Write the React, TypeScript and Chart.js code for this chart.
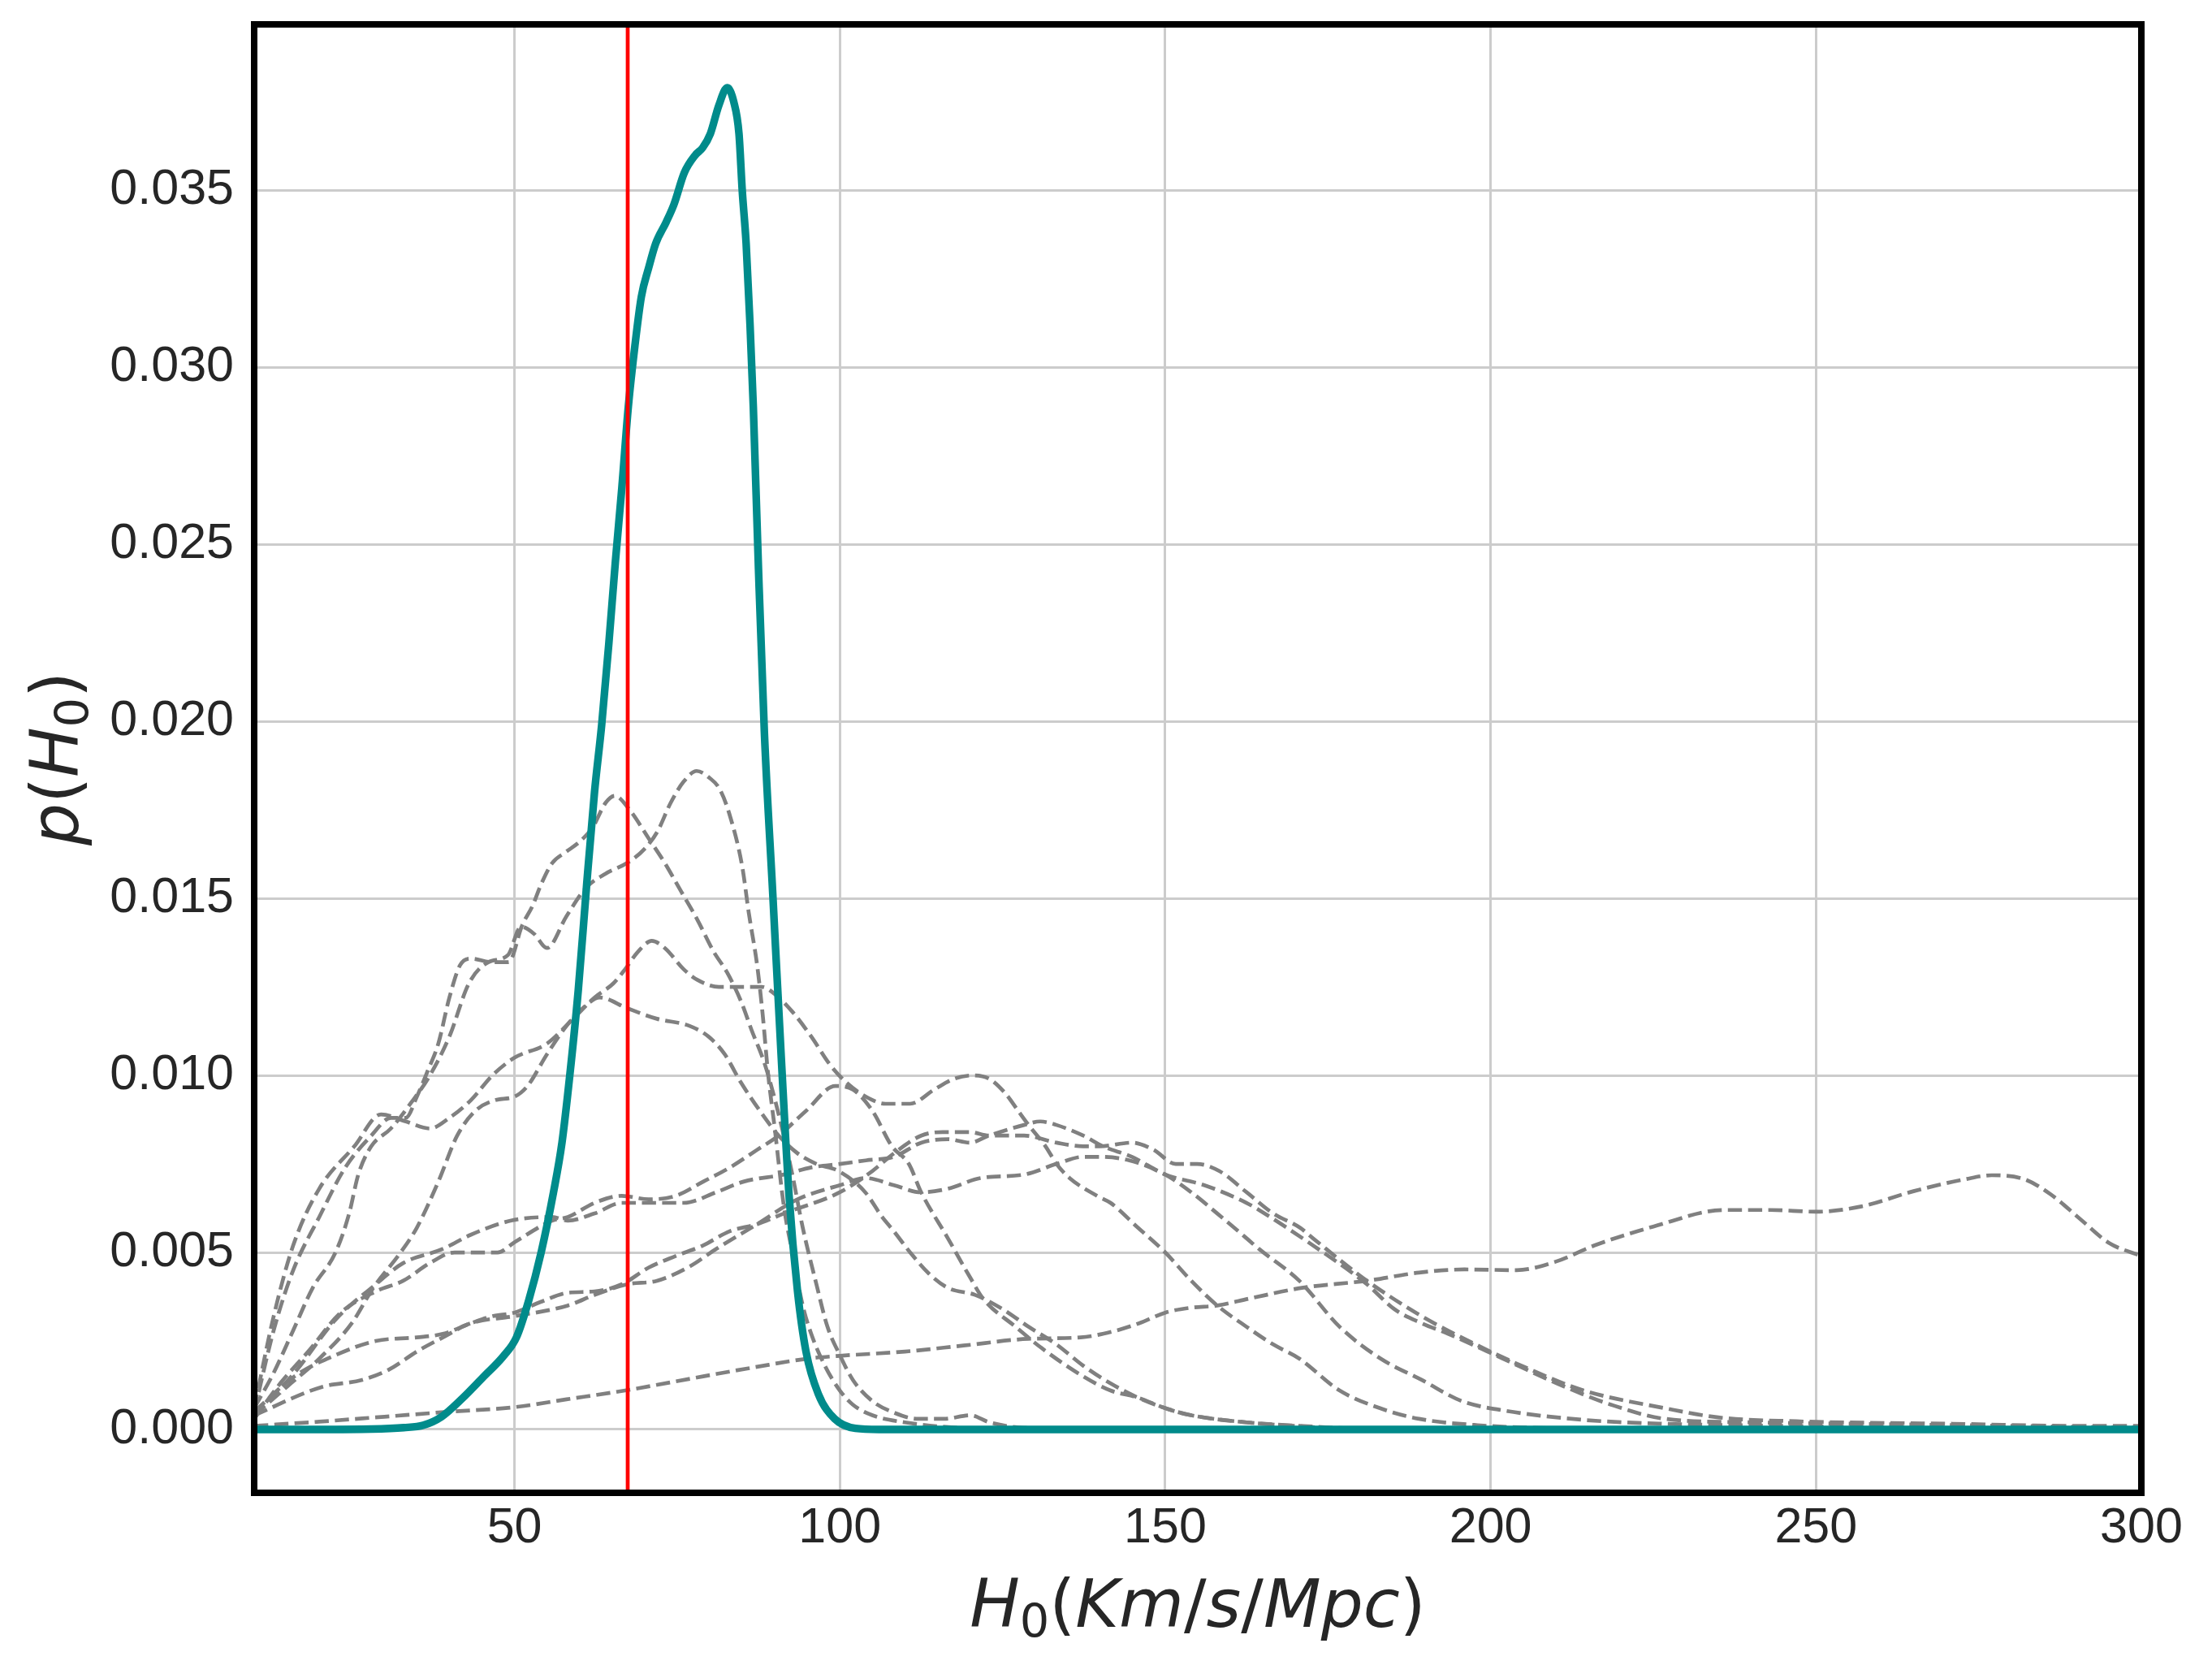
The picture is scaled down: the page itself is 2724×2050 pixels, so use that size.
import React, { useEffect, useRef } from 'react';
import { Chart, registerables } from 'chart.js';

Chart.register(...registerables);

const CANVAS_W = 2724;
const CANVAS_H = 2050;

const X_MIN = 10;
const X_MAX = 300;
const Y_MIN = -0.00179;
const Y_MAX = 0.03969;

const X_TICKS = [50, 100, 150, 200, 250, 300];
const Y_TICKS = [0, 0.005, 0.01, 0.015, 0.02, 0.025, 0.03, 0.035];

const H0_REFERENCE = 67.4;

// combined posterior
const TEAL: [number, number][] = [
  [10, 0], [20, 0], [28, 0.00001], [33, 0.00005], [36, 0.00012], [38.8, 0.00036], [42, 0.00088],
  [45.2, 0.00148], [48.3, 0.00207], [50.3, 0.0026], [52.2, 0.00365], [54.1, 0.005], [56, 0.0067],
  [57.3, 0.0081], [58.5, 0.01], [59.8, 0.0124], [61.1, 0.0154], [62.3, 0.018], [63.4, 0.0199],
  [64.5, 0.0222], [65.5, 0.0245], [66.5, 0.0266], [67.5, 0.0289], [68.5, 0.0306], [69.5, 0.032],
  [70.6, 0.0328], [71.7, 0.0335], [73.3, 0.0341], [74.5, 0.0346], [76.1, 0.0355], [77.8, 0.036],
  [78.9, 0.0362], [80.1, 0.0366], [81.4, 0.0374], [82.7, 0.0379], [83.7, 0.0375], [84.5, 0.0366],
  [85, 0.035], [85.6, 0.0335], [86.2, 0.0312], [86.7, 0.0289], [87.5, 0.0243], [88.4, 0.0197],
  [89.7, 0.0151], [91, 0.0105], [92.2, 0.0066], [93.5, 0.0039], [94.8, 0.0022], [96.7, 0.001],
  [99.2, 0.0003], [102.4, 0.00003], [106, 0], [150, 0], [300, 0],
];

// individual event posteriors (dashed)
const EV_G1: [number, number][] = [
  [10, 0.0001], [20, 0.00022], [30, 0.00036], [40, 0.0005], [50, 0.00063], [58, 0.00085], [67, 0.0011],
  [79, 0.0015], [87, 0.00176], [95, 0.002], [100, 0.00208], [110, 0.0022], [119, 0.00237], [129, 0.00256],
  [137, 0.0026], [142, 0.00277], [146, 0.003], [150, 0.0033], [154, 0.00344], [158, 0.0035], [163, 0.0037],
  [171, 0.004], [181, 0.0042], [189, 0.00443], [196, 0.00452], [204, 0.0045], [210, 0.00474], [216, 0.0052],
  [225, 0.00573], [236, 0.0062], [243, 0.0062], [250, 0.00615], [257, 0.0063], [265, 0.00673], [273, 0.00707],
  [277, 0.00718], [282, 0.00707], [286, 0.00665], [290.5, 0.00596], [295, 0.00527], [300, 0.0049],
];

const EV_P: [number, number][] = [
  [10, 0.0006], [13, 0.0016], [16, 0.0028], [19, 0.004], [22.5, 0.005], [24.6, 0.0061], [26, 0.0072],
  [28, 0.008], [31, 0.0085], [34, 0.0092], [37, 0.01], [40, 0.0111], [43, 0.0126], [46, 0.0132],
  [49, 0.0134], [51, 0.0142], [53, 0.014], [55, 0.0136], [58, 0.0145], [61, 0.0153], [64, 0.0157],
  [67.3, 0.016], [70, 0.0164], [72, 0.0169], [74, 0.0177], [76, 0.0183], [78, 0.0186], [80, 0.0184],
  [81.5, 0.0181], [83, 0.0174], [85, 0.0159], [86, 0.0146], [87.3, 0.0131], [88.1, 0.0118], [89, 0.01],
  [90, 0.0085], [91.4, 0.0063], [92.7, 0.005], [94.3, 0.0035], [95.6, 0.0027], [97.7, 0.0018],
  [100, 0.0011], [102, 0.0007], [105, 0.0004], [110, 0.0002], [118, 0.00005], [130, 0], [300, 0],
];

const EV_Q: [number, number][] = [
  [10, 0.0005], [13, 0.0028], [16, 0.0045], [20, 0.006], [24, 0.0074], [28, 0.0083], [31, 0.0088],
  [33.3, 0.0088], [35, 0.0094], [36.6, 0.0101], [38.3, 0.0109], [40, 0.0122], [41.6, 0.0131],
  [43.3, 0.0133], [46.6, 0.0132], [49.1, 0.0132], [51.2, 0.01425], [52.8, 0.0148], [54.1, 0.0154],
  [55.8, 0.016], [57.8, 0.0163], [60, 0.0166], [62, 0.017], [64, 0.0177], [65.4, 0.0179], [67.7, 0.0175],
  [70.6, 0.0167], [73.1, 0.016], [75.6, 0.0152], [78.1, 0.0144], [80.6, 0.0135], [82.7, 0.0129],
  [84.8, 0.0121], [86.4, 0.0113], [88.5, 0.0103], [90.6, 0.0089], [92.7, 0.0072], [94.3, 0.0057],
  [96.4, 0.0041], [98.1, 0.0029], [100, 0.0021], [102, 0.0014], [105, 0.0008], [108, 0.0005],
  [112, 0.0003], [116, 0.0003], [120, 0.0004], [123, 0.0002], [128, 0.00005], [140, 0], [300, 0],
];

const EV_R: [number, number][] = [
  [10, 0.0006], [13, 0.0032], [16, 0.0052], [20, 0.0068], [25.4, 0.008], [29.5, 0.0089], [33.3, 0.0087],
  [37, 0.0085], [40, 0.0088], [43.3, 0.0093], [46.6, 0.01], [50, 0.0105], [55, 0.0109], [59, 0.0116],
  [62.3, 0.0122], [65.2, 0.0126], [67, 0.013], [69, 0.0135], [71.1, 0.0138], [73.1, 0.0136], [76, 0.013],
  [78.1, 0.0127], [81.4, 0.0125], [85.2, 0.0125], [88, 0.0125], [90, 0.0123], [92.7, 0.0118],
  [95.6, 0.0111], [98.5, 0.0103], [101, 0.0098], [104, 0.0094], [107, 0.0092], [110.8, 0.0092],
  [114.5, 0.0096], [117.5, 0.0099], [120.4, 0.01], [123, 0.0099], [125.4, 0.0095], [127.4, 0.009],
  [129, 0.0086], [131.6, 0.008], [133.3, 0.0075], [135.3, 0.0071], [139.5, 0.0066], [141.6, 0.0064],
  [145.8, 0.0057], [150, 0.005], [154, 0.0042], [158, 0.0035], [162.5, 0.0029], [166.6, 0.0024],
  [170.6, 0.002], [176.8, 0.0011], [183, 0.0006], [189, 0.0003], [198, 0.00012], [210, 0.00003],
  [225, 0], [300, 0],
];

const EV_X: [number, number][] = [
  [10, 0.0004], [15, 0.0012], [20, 0.002], [25, 0.003], [28.3, 0.004], [32.5, 0.005], [35, 0.0057],
  [38.3, 0.007], [41.2, 0.0083], [44, 0.009], [47, 0.0093], [50, 0.0094], [52, 0.0097], [55, 0.0106],
  [58, 0.0114], [60.5, 0.0119], [63.1, 0.0122], [67.3, 0.0119], [71.9, 0.0116], [76.9, 0.0114],
  [79.8, 0.0111], [82.3, 0.0106], [84.8, 0.0098], [88.1, 0.0089], [90.6, 0.0083], [93.5, 0.0078],
  [96.4, 0.0075], [99.8, 0.0073], [103.9, 0.0067], [106.5, 0.006], [108.3, 0.0056], [110.8, 0.005],
  [113.7, 0.0044], [116.6, 0.004], [120.8, 0.0038], [125, 0.0034], [129, 0.0029], [133.3, 0.0024],
  [137.4, 0.0018], [141.6, 0.0013], [145.8, 0.0009], [150, 0.0006], [154, 0.0004], [162.5, 0.0002],
  [170, 0.0001], [180, 0], [300, 0],
];

const EV_Y: [number, number][] = [
  [10, 0.0003], [14, 0.0013], [18.3, 0.0022], [23.3, 0.0033], [28.7, 0.0039], [32.9, 0.0042],
  [37, 0.0047], [40.8, 0.005], [45.4, 0.005], [47.4, 0.005], [50.1, 0.0053], [55.8, 0.0059],
  [58.2, 0.006], [62.3, 0.0064], [66.5, 0.0066], [70.6, 0.0065], [74.8, 0.0066], [79, 0.007],
  [83.1, 0.0074], [87.3, 0.0079], [90.6, 0.0083], [94.8, 0.009], [99.3, 0.0097], [102, 0.0096],
  [105, 0.009], [108, 0.008], [110.6, 0.0075], [112.5, 0.0067], [116.6, 0.0054], [120, 0.0043],
  [122, 0.0037], [127, 0.0029], [131, 0.0023], [137.4, 0.0015], [141.6, 0.0011], [145.8, 0.0009],
  [150, 0.0006], [154, 0.0004], [162.5, 0.0002], [170.7, 0.0001], [185, 0], [300, 0],
];

const EV_U: [number, number][] = [
  [10, 0.0004], [16.2, 0.0016], [22.5, 0.0031], [28.7, 0.0041], [32.9, 0.0047], [39, 0.0051],
  [43.3, 0.0055], [49.5, 0.0059], [55.8, 0.006], [58.2, 0.0059], [62.3, 0.0061], [66.5, 0.0064],
  [70.6, 0.0064], [76, 0.0064], [81, 0.0067], [85.2, 0.007], [91.4, 0.0072], [95.6, 0.0074],
  [100, 0.0075], [104, 0.0076], [108.3, 0.0077], [112.5, 0.0081], [116.6, 0.0082], [120, 0.0081],
  [122.9, 0.0083], [128.3, 0.0086], [130.8, 0.0087], [133.3, 0.0086], [137.4, 0.0083], [140.4, 0.008],
  [144.9, 0.0077], [150, 0.0072], [156, 0.0069], [162.5, 0.0064], [164.4, 0.0062], [172.7, 0.0052],
  [181, 0.0041], [185.2, 0.0034], [189.4, 0.003], [193.5, 0.0027], [201.9, 0.002], [210.2, 0.0013],
  [218.5, 0.0007], [226.8, 0.0003], [240, 0.0002], [260, 0.00015], [280, 0.0001], [300, 0.00005],
];

const EV_V: [number, number][] = [
  [10, 0.0005], [16.2, 0.0015], [22.5, 0.0021], [28.7, 0.0025], [35, 0.0026], [39, 0.0027],
  [43.3, 0.003], [46.6, 0.0032], [50, 0.0033], [54, 0.0036], [58.2, 0.00386], [62.3, 0.0039],
  [66.5, 0.0041], [70.6, 0.00457], [74.8, 0.0049], [79, 0.0052], [83.1, 0.0056], [87.3, 0.0058],
  [91.4, 0.0061], [100, 0.0067], [105, 0.0073], [108.3, 0.0078], [112.5, 0.0083], [115.8, 0.0084],
  [120, 0.0084], [122.9, 0.0083], [128.3, 0.0083], [133.3, 0.0081], [137.4, 0.008], [139.9, 0.008],
  [144.9, 0.0081], [148.2, 0.0079], [151.6, 0.0075], [154.9, 0.0075], [158.3, 0.0073], [162.5, 0.0067],
  [166.6, 0.0061], [170.7, 0.0057], [172.7, 0.0054], [181, 0.0042], [189.4, 0.0032], [197.7, 0.0024],
  [206, 0.0017], [214.3, 0.0011], [226.8, 0.0006], [235, 0.00034], [247, 0.00023], [271, 0.00016],
  [290, 0.0001], [300, 0.0001],
];

const EV_N: [number, number][] = [
  [10, 0.0004], [20.4, 0.0012], [26.6, 0.0014], [30.8, 0.0017], [35, 0.0022], [39, 0.0026],
  [43.3, 0.003], [50, 0.0032], [58.2, 0.0035], [62.3, 0.0038], [67.3, 0.0041], [71.9, 0.0042],
  [76.9, 0.0046], [81, 0.0051], [87.3, 0.0058], [93.5, 0.0065], [100, 0.0069], [104, 0.0071],
  [108.3, 0.0069], [112.5, 0.0067], [116.6, 0.0068], [121.6, 0.0071], [128.3, 0.0072], [133.3, 0.0075],
  [137.4, 0.0077], [140, 0.0077], [144.5, 0.0076], [150, 0.0072], [154, 0.0067], [158, 0.0061],
  [162.5, 0.0054], [164.4, 0.0051], [170.6, 0.0042], [176.8, 0.0029], [183.1, 0.002], [189.4, 0.0014],
  [195.6, 0.0008], [201.9, 0.00054], [214.3, 0.00027], [226.8, 0.00016], [245, 0.0001], [270, 0.00005],
  [290, 0], [300, 0],
];

const EVENTS = [EV_G1, EV_P, EV_Q, EV_R, EV_X, EV_Y, EV_U, EV_V, EV_N];

type Part = { t: string; it?: boolean; sub?: boolean };
const X_LABEL: Part[] = [
  { t: 'H', it: true }, { t: '0', sub: true }, { t: '(' }, { t: 'Km', it: true }, { t: '/' },
  { t: 's', it: true }, { t: '/' }, { t: 'Mpc', it: true }, { t: ')' },
];
const Y_LABEL: Part[] = [
  { t: 'p', it: true }, { t: '(' }, { t: 'H', it: true }, { t: '0', sub: true }, { t: ')' },
];

const LABEL_SIZE = 82;
const TICK_SIZE = 61;
const TEXT_COLOR = '#262626';

function partFont(p: Part) {
  const size = p.sub ? LABEL_SIZE * 0.7 : LABEL_SIZE;
  return `${p.it ? 'italic ' : ''}${size}px "DejaVu Sans"`;
}

function drawMath(ctx: CanvasRenderingContext2D, parts: Part[], cx: number, baseline: number) {
  let total = 0;
  const widths = parts.map((p) => {
    ctx.font = partFont(p);
    const w = ctx.measureText(p.t).width;
    total += w;
    return w;
  });
  let x = cx - total / 2;
  parts.forEach((p, i) => {
    ctx.font = partFont(p);
    ctx.fillText(p.t, x, baseline + (p.sub ? LABEL_SIZE * 0.16 : 0));
    x += widths[i];
  });
}

const decorPlugin = {
  id: 'decor',
  afterDraw(chart: any) {
    const { ctx, chartArea } = chart;
    const { left, right, top, bottom } = chartArea;
    ctx.save();
    ctx.strokeStyle = '#000000';
    ctx.lineWidth = 8;
    ctx.lineJoin = 'miter';
    ctx.strokeRect(left, top, right - left, bottom - top);

    ctx.fillStyle = TEXT_COLOR;
    ctx.textAlign = 'left';
    ctx.textBaseline = 'alphabetic';
    drawMath(ctx, X_LABEL, (left + right) / 2, 2003);

    ctx.translate(96, (top + bottom) / 2);
    ctx.rotate(-Math.PI / 2);
    drawMath(ctx, Y_LABEL, 0, 0);
    ctx.restore();
  },
};

const zeroPadding = (s: any) => {
  s.paddingTop = 0;
  s.paddingBottom = 0;
  s.paddingLeft = 0;
  s.paddingRight = 0;
};

const toPoints = (arr: [number, number][]) => arr.map(([x, y]) => ({ x, y }));

export default function App() {
  const ref = useRef<HTMLCanvasElement>(null);

  useEffect(() => {
    document.body.style.margin = '0';
    const canvas = ref.current;
    if (!canvas) return;
    const datasets: any[] = [
      {
        data: [{ x: H0_REFERENCE, y: Y_MIN }, { x: H0_REFERENCE, y: Y_MAX }],
        borderColor: '#ff0000',
        borderWidth: 4.7,
        pointRadius: 0,
        tension: 0,
      },
      {
        data: toPoints(TEAL),
        borderColor: '#008b8b',
        borderWidth: 9.4,
        pointRadius: 0,
        cubicInterpolationMode: 'monotone',
      },
      ...EVENTS.map((ev) => ({
        data: toPoints(ev),
        borderColor: '#808080',
        borderWidth: 4.7,
        borderDash: [17.4, 7.5],
        pointRadius: 0,
        cubicInterpolationMode: 'monotone',
      })),
    ];

    const chart = new Chart(canvas, {
      type: 'line',
      data: { datasets },
      options: {
        responsive: false,
        animation: false,
        devicePixelRatio: 1,
        events: [],
        layout: { padding: { left: 0, right: 87, top: 30, bottom: 0 } },
        plugins: { legend: { display: false }, tooltip: { enabled: false } },
        scales: {
          x: {
            type: 'linear',
            min: X_MIN,
            max: X_MAX,
            afterBuildTicks: (s: any) => {
              s.ticks = X_TICKS.map((v) => ({ value: v }));
            },
            afterFit: (s: any) => {
              s.height = 212;
              zeroPadding(s);
            },
            grid: { color: '#cccccc', lineWidth: 3, drawTicks: false },
            border: { display: false },
            ticks: {
              color: TEXT_COLOR,
              font: { family: '"Liberation Sans", Arial, sans-serif', size: TICK_SIZE },
              padding: 8,
              maxRotation: 0,
              autoSkip: false,
              callback: (v: any) => String(v),
            },
          },
          y: {
            type: 'linear',
            min: Y_MIN,
            max: Y_MAX,
            afterBuildTicks: (s: any) => {
              s.ticks = Y_TICKS.map((v) => ({ value: v }));
            },
            afterFit: (s: any) => {
              s.width = 313;
              zeroPadding(s);
            },
            grid: { color: '#cccccc', lineWidth: 3, drawTicks: false },
            border: { display: false },
            ticks: {
              color: TEXT_COLOR,
              font: { family: '"Liberation Sans", Arial, sans-serif', size: TICK_SIZE },
              padding: 25,
              autoSkip: false,
              callback: (v: any) => Number(v).toFixed(3),
            },
          },
        },
      },
      plugins: [decorPlugin],
    });
    return () => chart.destroy();
  }, []);

  return <canvas ref={ref} width={CANVAS_W} height={CANVAS_H} style={{ display: 'block' }} />;
}
